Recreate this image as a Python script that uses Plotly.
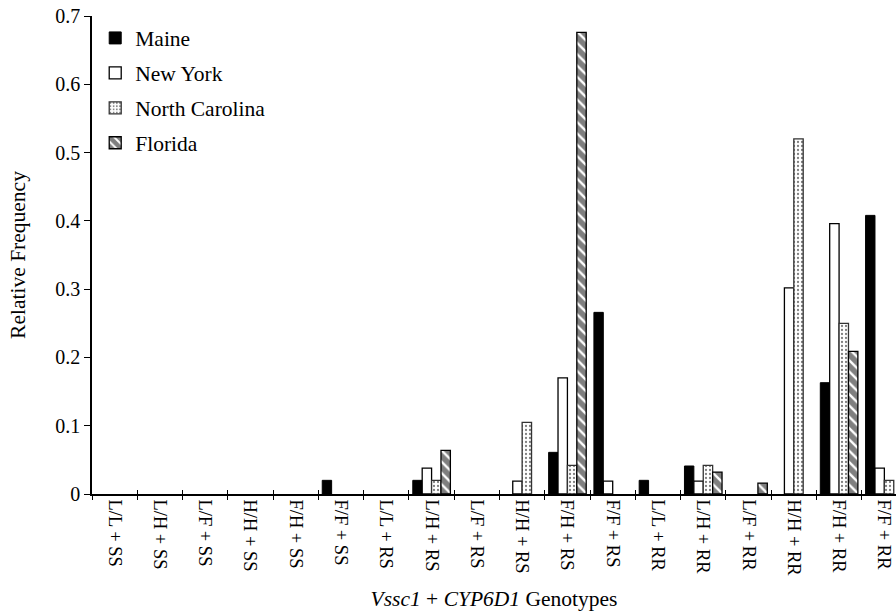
import plotly.graph_objects as go

categories = ["L/L + SS", "L/H + SS", "L/F + SS", "H/H + SS", "F/H + SS", "F/F + SS",
              "L/L + RS", "L/H + RS", "L/F + RS", "H/H + RS", "F/H + RS", "F/F + RS",
              "L/L + RR", "L/H + RR", "L/F + RR", "H/H + RR", "F/H + RR", "F/F + RR"]

maine = [0, 0, 0, 0, 0, 0.02, 0, 0.02, 0, 0, 0.061, 0.266, 0.02, 0.041, 0, 0, 0.163, 0.408]
new_york = [0, 0, 0, 0, 0, 0, 0, 0.038, 0, 0.019, 0.170, 0.019, 0, 0.019, 0, 0.302, 0.396, 0.038]
north_carolina = [0, 0, 0, 0, 0, 0, 0, 0.02, 0, 0.105, 0.042, 0, 0, 0.042, 0, 0.520, 0.250, 0.020]
florida = [0, 0, 0, 0, 0, 0, 0, 0.064, 0, 0, 0.676, 0, 0, 0.032, 0.016, 0, 0.209, 0]

y_ticks = [0, 0.1, 0.2, 0.3, 0.4, 0.5, 0.6, 0.7]
y_ticktext = ["0", "0.1", "0.2", "0.3", "0.4", "0.5", "0.6", "0.7"]

FONT = "Liberation Serif, Times New Roman, serif"


def shown(vals):
    # zero frequencies draw no bar at all in the reference
    return [v if v > 0 else None for v in vals]


fig = go.Figure()
fig.add_trace(go.Bar(name="Maine", x=categories, y=shown(maine), legendgroup="a",
                     marker=dict(color="black", line=dict(color="black", width=1))))
fig.add_trace(go.Bar(name="New York", x=categories, y=shown(new_york), legendgroup="b",
                     marker=dict(color="white", line=dict(color="black", width=1.3))))
fig.add_trace(go.Bar(name="North Carolina", x=categories, y=shown(north_carolina), legendgroup="c",
                     marker=dict(color="white", line=dict(color="#333", width=1.3),
                                 pattern=dict(shape=".", fgcolor="black", bgcolor="white",
                                              size=4, solidity=0.25))))
fig.add_trace(go.Bar(name="Florida", x=categories, y=shown(florida), legendgroup="d",
                     marker=dict(color="white", line=dict(color="black", width=1.3),
                                 pattern=dict(shape="\\", fgcolor="black", bgcolor="white",
                                              size=8, solidity=0.7))))
# helper trace so the overlay axis (inner half of the crossing ticks) is drawn
fig.add_trace(go.Scatter(x=categories, y=[None] * len(categories), xaxis="x2",
                         showlegend=False, hoverinfo="skip", mode="markers"))

fig.update_layout(
    width=896, height=612,
    margin=dict(l=92, r=0, t=16, b=118),
    plot_bgcolor="white", paper_bgcolor="white",
    barmode="group", bargap=0.17, bargroupgap=0,
    font=dict(family=FONT, color="black", size=18),
    showlegend=True,
    legend=dict(x=0.004, y=0.997, xanchor="left", yanchor="top",
                font=dict(family=FONT, size=21.5, color="black"),
                tracegroupgap=4, bgcolor="rgba(0,0,0,0)"),
    xaxis=dict(
        type="category", range=[-0.5, 17.257], automargin=False,
        showline=True, linecolor="black", linewidth=1.5,
        ticks="outside", tickson="boundaries", ticklen=4, tickcolor="black",
        tickangle=90, tickfont=dict(family=FONT, size=18.5, color="black"),
        showgrid=False, zeroline=False,
        title=dict(text="<i>Vssc1</i> + <i>CYP6D1</i> Genotypes",
                   font=dict(family=FONT, size=21.5, color="black"), standoff=16),
    ),
    xaxis2=dict(
        type="category", matches="x", overlaying="x", side="bottom", automargin=False,
        showline=False, ticks="inside", tickson="boundaries", ticklen=4, tickcolor="black",
        showticklabels=False, showgrid=False, zeroline=False,
    ),
    yaxis=dict(
        range=[0, 0.7], tickvals=y_ticks, ticktext=y_ticktext, automargin=False,
        showline=True, linecolor="black", linewidth=1.5,
        ticks="outside", ticklen=6, tickcolor="black",
        tickfont=dict(family=FONT, size=20, color="black"),
        showgrid=False, zeroline=False,
        title=dict(text="Relative Frequency",
                   font=dict(family=FONT, size=21.5, color="black"), standoff=24),
    ),
)

# remove the browser's default 8px page margin so the figure fills the window
fig.write_html("out.html", config={"displayModeBar": False},
               post_script="document.body.style.margin='0';document.body.style.overflow='hidden';")
